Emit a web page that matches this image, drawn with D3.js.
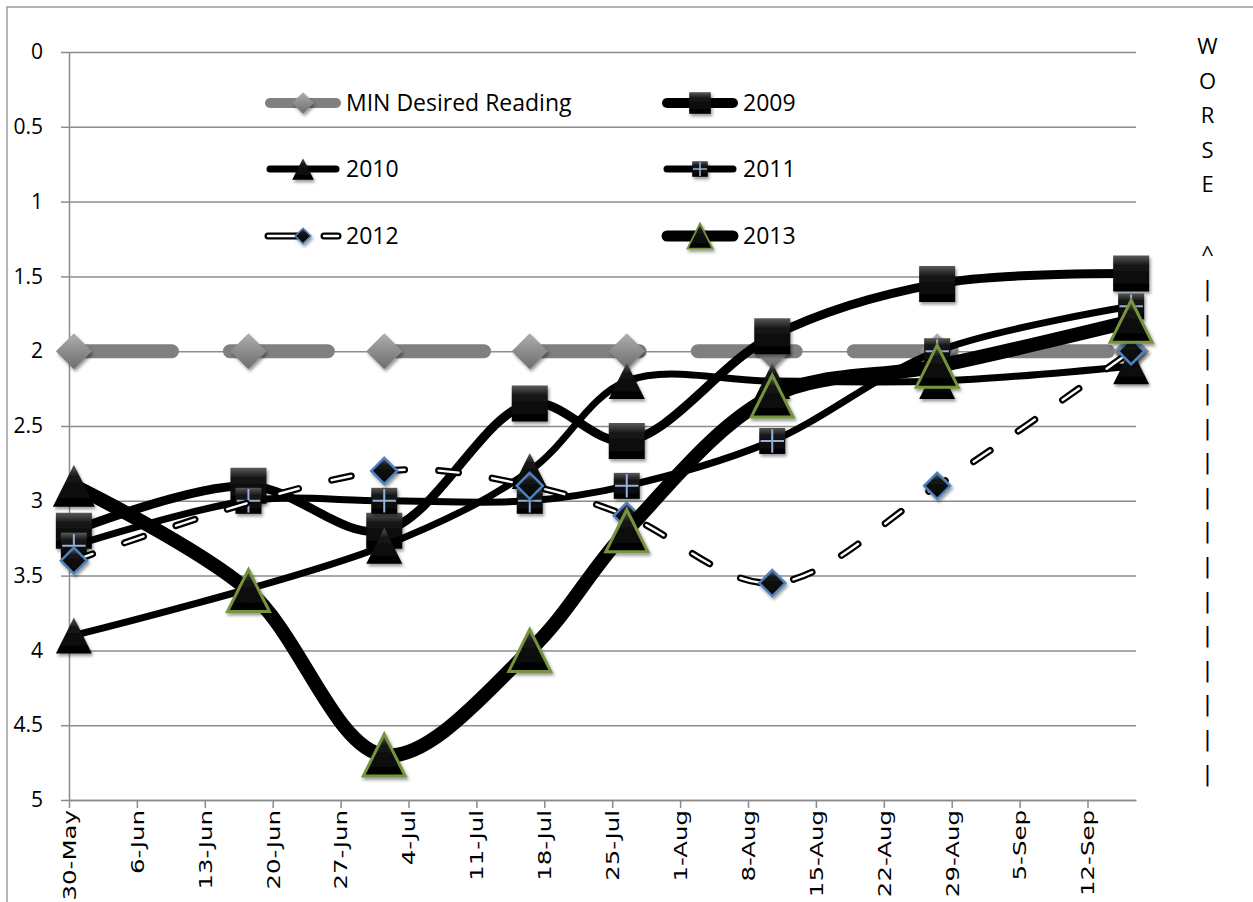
<!DOCTYPE html>
<html><head><meta charset="utf-8">
<script src="https://cdn.jsdelivr.net/npm/d3@7"></script>
<style>body{margin:0;background:#fff;overflow:hidden}</style></head>
<body><svg id="c" width="1253" height="902"></svg>
<script>
// ---------- data ----------
const dates = ["2013-05-30","2013-06-17","2013-07-01","2013-07-16","2013-07-26","2013-08-10","2013-08-27","2013-09-16"];
const minDesired = [2,2,2,2,2,2,2,2];
const y2009 = [3.2,2.9,3.2,2.35,2.6,1.9,1.55,1.48];
const y2010 = [3.9,null,3.3,2.8,2.2,2.2,2.2,2.1];
const y2011 = [3.3,3.0,3.0,3.0,2.9,2.6,2.0,1.7];
const y2012 = [3.4,null,2.8,2.9,3.1,3.55,2.9,2.0];
const y2013 = [2.9,3.6,4.7,4.0,3.2,2.3,2.1,1.8];
const seriesNames = ["MIN Desired Reading","2009","2010","2011","2012","2013"];
const yTicks = [0,0.5,1,1.5,2,2.5,3,3.5,4,4.5,5];
const axisStart = "2013-05-30", axisEnd = "2013-09-17";
const sideText = ["W","O","R","S","E","","^","|","|","|","|","|","|","|","|","|","|","|","|","|","|","|"];

// ---------- setup ----------
const svg = d3.select("#c");
const parse = d3.utcParse("%Y-%m-%d");
const L = 69, R = 1136, T = 52, B = 800;
const x = d3.scaleUtc().domain([parse(axisStart), parse(axisEnd)]).range([L, R]);
const y = d3.scaleLinear().domain([0, 5]).range([T, B]);
const HALF_DAY = 12 * 3600 * 1000;
const px = d => x(new Date(parse(d).getTime() + HALF_DAY));
const GRID = "#8c8c8c";
const FONT = "'Open Sans', sans-serif";

const defs = svg.append("defs");
const g1 = defs.append("linearGradient").attr("id","gBlk").attr("x1",0).attr("y1",0).attr("x2",0).attr("y2",1);
g1.append("stop").attr("offset","0").attr("stop-color","#5a5a5a");
g1.append("stop").attr("offset","0.28").attr("stop-color","#161616");
g1.append("stop").attr("offset","1").attr("stop-color","#000");
const g2 = defs.append("linearGradient").attr("id","gGry").attr("x1",0).attr("y1",0).attr("x2",0).attr("y2",1);
g2.append("stop").attr("offset","0").attr("stop-color","#b0b0b0");
g2.append("stop").attr("offset","0.5").attr("stop-color","#8c8c8c");
g2.append("stop").attr("offset","1").attr("stop-color","#6e6e6e");
const f = defs.append("filter").attr("id","sh").attr("x","-50%").attr("y","-50%").attr("width","200%").attr("height","200%");
f.append("feDropShadow").attr("dx",1.5).attr("dy",2.5).attr("stdDeviation",1.6).attr("flood-color","#000").attr("flood-opacity",0.4);

// outer border
svg.append("rect").attr("x",7).attr("y",7).attr("width",1300).attr("height",1000)
  .attr("fill","none").attr("stroke","#8c8c8c").attr("stroke-width",1.3);

// gridlines
const gridG = svg.append("g").attr("transform",`translate(${L},0)`)
  .call(d3.axisLeft(y).tickValues(yTicks).tickSize(-(R - L)).tickFormat(""));
gridG.select(".domain").remove();
gridG.selectAll("line").attr("stroke",GRID).attr("stroke-width",1.5);

// y axis
const yAx = svg.append("g").attr("transform",`translate(${L},0)`)
  .call(d3.axisLeft(y).tickValues(yTicks).tickSize(8).tickSizeOuter(0).tickPadding(18).tickFormat(d3.format("")));
yAx.attr("font-size",null).attr("font-family",null);
yAx.select(".domain").attr("stroke",GRID).attr("stroke-width",1.5);
yAx.selectAll("line").attr("stroke",GRID).attr("stroke-width",1.5);
yAx.selectAll("text").style("font-family",FONT).style("font-size","21px").attr("fill","#000");

// x axis
const xTicks = d3.utcDay.range(parse(axisStart), parse(axisEnd), 7);
const xAx = svg.append("g").attr("transform",`translate(0,${B})`)
  .call(d3.axisBottom(x).tickValues(xTicks).tickSize(8).tickSizeOuter(0).tickFormat(d3.utcFormat("%-d-%b")));
xAx.attr("font-size",null).attr("font-family",null);
xAx.select(".domain").attr("stroke",GRID).attr("stroke-width",1.5);
xAx.selectAll("line").attr("stroke",GRID).attr("stroke-width",1.5);
xAx.selectAll("text")
  .style("font-family","'DejaVu Sans', sans-serif").style("font-size","18px").attr("fill","#000")
  .attr("text-anchor","end").attr("dy","0.35em").attr("y",0)
  .attr("transform","translate(0,10) rotate(-90) scale(1.36,1)");

// ---------- markers ----------
function markerPath(type, s) {
  if (type === "diamond") return `M0,${-s}L${s},0L0,${s}L${-s},0Z`;
  if (type === "square") return `M${-s},${-s}H${s}V${s}H${-s}Z`;
  if (type === "triangle") return `M0,${-s}L${s},${s}L${-s},${s}Z`;
}
function drawMarker(g, cfg, cx, cy, scale, idx) {
  const m = g.append("g").attr("transform",`translate(${cx},${cy})`).attr("filter","url(#sh)");
  const s = cfg.ms * scale;
  const p = m.append("path").attr("d", markerPath(cfg.marker, s))
    .attr("fill", cfg.mfill).attr("stroke", cfg.mstroke || "none").attr("stroke-width", (cfg.mstrokeW || 0) * scale)
    .attr("stroke-linejoin","miter");
  if (cfg.noStrokeFirst && idx === 0) p.attr("stroke","none");
  if (cfg.plus) {
    const q = s * 0.9;
    m.append("path").attr("d",`M${-q},0H${q}M0,${-q}V${q}`).attr("stroke","#95b3d7").attr("stroke-width",2 * Math.max(scale, 0.8));
  }
}

const series = [
  {name: seriesNames[0], vals: minDesired, color:"#808080", w:14, dash:"98,58", marker:"diamond", ms:18, mfill:"url(#gGry)", lw:10},
  {name: seriesNames[1], vals: y2009, color:"#000", w:9, marker:"square", ms:18, mfill:"url(#gBlk)", lw:10},
  {name: seriesNames[2], vals: y2010, color:"#000", w:7, marker:"triangle", ms:18, mfill:"url(#gBlk)", lw:7},
  {name: seriesNames[3], vals: y2011, color:"#000", w:7, marker:"square", ms:13, mfill:"url(#gBlk)", plus:true, lw:7},
  {name: seriesNames[4], vals: y2012, color:"#000", w:7, dash:"20,34", inner:true, marker:"diamond", ms:13, mfill:"url(#gBlk)", mstroke:"#4f81bd", mstrokeW:2.5, lw:7},
  {name: seriesNames[5], vals: y2013, color:"#000", w:14, marker:"triangle", ms:21, mfill:"url(#gBlk)", mstroke:"#77933c", mstrokeW:3, noStrokeFirst:true, lw:11}
];

const line = d3.line().x(d => d.x).y(d => d.y).curve(d3.curveCatmullRom.alpha(0.5));
const plot = svg.append("g");
series.forEach(cfg => {
  const pts = dates.map((d, i) => ({x: px(d), y: cfg.vals[i] == null ? null : y(cfg.vals[i]), i}))
                   .filter(p => p.y != null);
  const g = plot.append("g");
  const pth = g.append("path").attr("d", line(pts)).attr("fill","none")
    .attr("stroke", cfg.color).attr("stroke-width", cfg.w)
    .attr("stroke-linecap","round").attr("stroke-linejoin","round");
  if (cfg.dash) pth.attr("stroke-dasharray", cfg.dash);
  if (cfg.inner) {
    g.append("path").attr("d", line(pts)).attr("fill","none")
      .attr("stroke","#fff").attr("stroke-width",2.4).attr("stroke-linecap","round")
      .attr("stroke-dasharray", cfg.dash);
  }
  pts.forEach(p => drawMarker(g, cfg, p.x, p.y, 1, p.i));
});

// ---------- legend ----------
const legX = [266, 663], legY = [103, 169, 236];
const leg = svg.append("g");
series.forEach((cfg, k) => {
  const lx = legX[k % 2], ly = legY[Math.floor(k / 2)];
  const g = leg.append("g");
  if (cfg.inner) {
    g.append("path").attr("d",`M${lx+2},${ly}H${lx+32}M${lx+58},${ly}H${lx+72}`)
      .attr("stroke","#000").attr("stroke-width",cfg.lw).attr("stroke-linecap","round");
    g.append("path").attr("d",`M${lx+2},${ly}H${lx+32}M${lx+58},${ly}H${lx+72}`)
      .attr("stroke","#fff").attr("stroke-width",2.4).attr("stroke-linecap","round");
  } else {
    g.append("path").attr("d",`M${lx+4},${ly}H${lx+70}`)
      .attr("stroke",cfg.color).attr("stroke-width",cfg.lw).attr("stroke-linecap","round");
  }
  drawMarker(g, cfg, lx + 37, ly, 0.6, 1);
  g.append("text").attr("x", lx + 80).attr("y", ly).attr("dy","0.36em")
    .style("font-family",FONT).style("font-size","23px").attr("fill","#000")
    .text(cfg.name);
});

// ---------- side annotation ----------
svg.append("g").selectAll("text").data(sideText).join("text")
  .attr("x",1207.5).attr("y",(d,i) => 46 + i * 34.6).attr("dy","0.36em")
  .attr("text-anchor","middle")
  .style("font-family", d => d === "|" ? "'DejaVu Sans', sans-serif" : FONT)
  .style("font-size", d => d === "|" ? "22px" : "22px").attr("fill","#000")
  .text(d => d);
</script>
</body></html>
